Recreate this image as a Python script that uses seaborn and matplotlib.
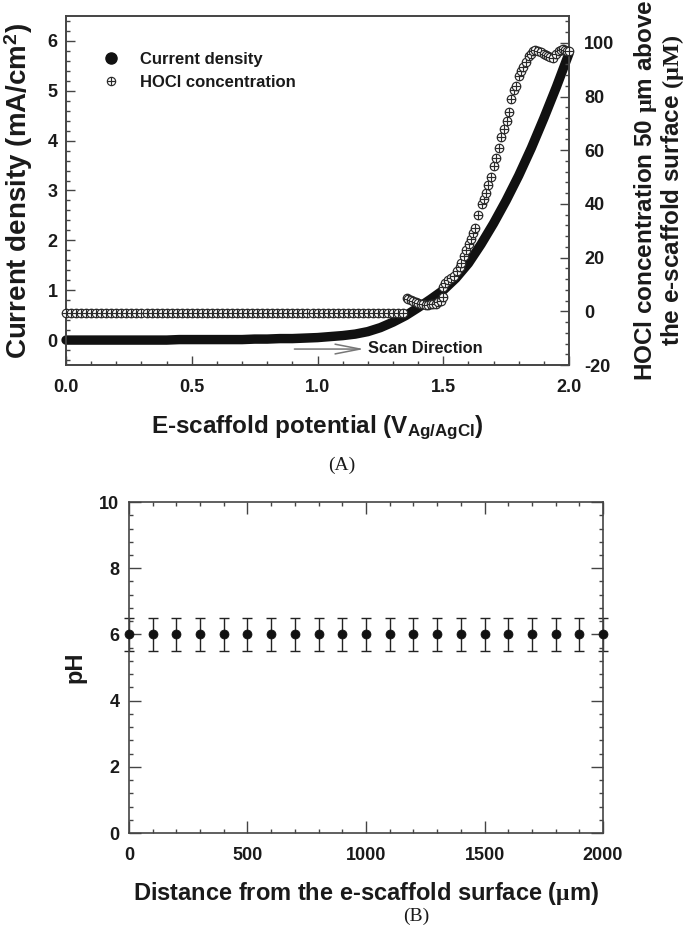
import numpy as np
import matplotlib
matplotlib.use("Agg")
import matplotlib.pyplot as plt
import seaborn as sns
from matplotlib.path import Path
from matplotlib.lines import Line2D
from matplotlib.ticker import MultipleLocator, FormatStrFormatter

# ---------------- data (panel A) ----------------
volt_cd = [0.00, 0.05, 0.10, 0.15, 0.20, 0.25, 0.30, 0.35, 0.40, 0.45, 0.50,
           0.55, 0.60, 0.65, 0.70, 0.75, 0.80, 0.85, 0.90, 0.95, 1.00, 1.05,
           1.10, 1.15, 1.20, 1.25, 1.30, 1.35, 1.40, 1.45, 1.50, 1.55, 1.60,
           1.65, 1.70, 1.75, 1.80, 1.85, 1.90, 1.95, 2.00]
current_cd = [0.00, 0.00, 0.00, 0.00, 0.00, 0.00, 0.00, 0.00, 0.00, 0.01, 0.01,
              0.01, 0.01, 0.01, 0.01, 0.02, 0.02, 0.03, 0.03, 0.04, 0.05, 0.07,
              0.09, 0.12, 0.17, 0.25, 0.36, 0.49, 0.65, 0.82, 1.00, 1.24, 1.54,
              1.92, 2.34, 2.80, 3.30, 3.85, 4.45, 5.08, 5.75]

hocl_base_v = [0.00, 0.02, 0.04, 0.06, 0.08, 0.10, 0.12, 0.14, 0.16, 0.18, 0.20,
               0.22, 0.24, 0.26, 0.28, 0.30, 0.32, 0.34, 0.36, 0.38, 0.40, 0.42,
               0.44, 0.46, 0.48, 0.50, 0.52, 0.54, 0.56, 0.58, 0.60, 0.62, 0.64,
               0.66, 0.68, 0.70, 0.72, 0.74, 0.76, 0.78, 0.80, 0.82, 0.84, 0.86,
               0.88, 0.90, 0.92, 0.94, 0.96, 0.98, 1.00, 1.02, 1.04, 1.06, 1.08,
               1.10, 1.12, 1.14, 1.16, 1.18, 1.20, 1.22, 1.24, 1.26, 1.28, 1.30,
               1.32, 1.34]
hocl_base_c = [-0.7, -0.7, -0.7, -0.7, -0.7, -0.7, -0.7, -0.7, -0.7, -0.7, -0.7,
               -0.7, -0.7, -0.7, -0.7, -0.7, -0.7, -0.7, -0.7, -0.7, -0.7, -0.7,
               -0.7, -0.7, -0.7, -0.7, -0.7, -0.7, -0.7, -0.7, -0.7, -0.7, -0.7,
               -0.7, -0.7, -0.7, -0.7, -0.7, -0.7, -0.7, -0.7, -0.7, -0.7, -0.7,
               -0.7, -0.7, -0.7, -0.7, -0.7, -0.7, -0.7, -0.7, -0.7, -0.7, -0.7,
               -0.7, -0.7, -0.7, -0.7, -0.7, -0.7, -0.7, -0.7, -0.7, -0.7, -0.7,
               -0.5, -0.5]
hocl_rise_v = [1.356, 1.36, 1.37, 1.38, 1.39, 1.40, 1.41, 1.42, 1.43, 1.44, 1.45,
               1.46, 1.47, 1.48, 1.49, 1.50,
               1.500, 1.508, 1.520, 1.530, 1.544, 1.555, 1.565, 1.572, 1.582,
               1.592, 1.602, 1.612, 1.620, 1.628, 1.640, 1.652, 1.660, 1.668,
               1.678, 1.688, 1.700, 1.708, 1.720, 1.728, 1.740, 1.752, 1.760,
               1.768, 1.780, 1.790, 1.800, 1.808, 1.816, 1.828, 1.840, 1.848,
               1.856, 1.866, 1.876, 1.888, 1.900, 1.908, 1.916, 1.926, 1.936,
               1.948, 1.960, 1.968, 1.976, 1.984, 1.992, 2.000]
hocl_rise_c = [4.9, 4.6, 4.1, 3.7, 3.3, 3.0, 2.8, 2.6, 2.5, 2.5, 2.6,
               2.7, 2.9, 3.3, 4.0, 5.2,
               9.0, 10.5, 11.5, 12.3, 13.0, 15.0, 16.5, 18.0, 20.5,
               22.8, 25.0, 27.0, 29.0, 31.0, 36.0, 40.0, 42.0, 44.0,
               47.0, 50.0, 54.0, 57.0, 61.0, 65.0, 68.0, 71.0, 74.4,
               79.0, 82.6, 84.0, 87.5, 89.5, 91.0, 93.0, 95.0, 96.0,
               96.8, 97.2, 97.0, 96.4, 95.7, 95.3, 95.0, 94.8, 94.5,
               95.7, 96.8, 97.4, 97.6, 97.3, 97.0, 96.8]

# ---------------- data (panel B) ----------------
dist_um = [0, 100, 200, 300, 400, 500, 600, 700, 800, 900, 1000,
           1100, 1200, 1300, 1400, 1500, 1600, 1700, 1800, 1900, 2000]
ph_val = [6.0, 6.0, 6.0, 6.0, 6.0, 6.0, 6.0, 6.0, 6.0, 6.0, 6.0,
          6.0, 6.0, 6.0, 6.0, 6.0, 6.0, 6.0, 6.0, 6.0, 6.0]
ph_err = [0.5, 0.5, 0.5, 0.5, 0.5, 0.5, 0.5, 0.5, 0.5, 0.5, 0.5,
          0.5, 0.5, 0.5, 0.5, 0.5, 0.5, 0.5, 0.5, 0.5, 0.5]

# ---------------- style ----------------
sns.set_theme(style="ticks")
plt.rcParams["font.family"] = ["Liberation Sans", "DejaVu Sans"]
plt.rcParams["font.weight"] = "bold"
plt.rcParams["axes.labelweight"] = "bold"
plt.rcParams["axes.unicode_minus"] = False
plt.rcParams["mathtext.fontset"] = "custom"
plt.rcParams["mathtext.rm"] = "Liberation Serif"
plt.rcParams["mathtext.bf"] = "Liberation Sans:bold"
plt.rcParams["mathtext.it"] = "Liberation Serif:italic"

TXT = "#1a1a1a"
SPINE = "#444444"
TICKFS = 13

# circle-plus marker
oplus = Path.make_compound_path(
    Path.unit_circle(),
    Path([[-1, 0], [1, 0]], [Path.MOVETO, Path.LINETO]),
    Path([[0, -1], [0, 1]], [Path.MOVETO, Path.LINETO]),
)

fig = plt.figure(figsize=(6.85, 9.34), dpi=100)
axA = fig.add_axes([0.0964, 0.6092, 0.7343, 0.3737])
axB = fig.add_axes([0.1883, 0.1081, 0.692, 0.3544])


def style_spines(ax):
    for s in ax.spines.values():
        s.set_color(SPINE)
        s.set_linewidth(1.2)
        s.set_visible(True)


# ---------------- panel A ----------------
sns.lineplot(x=volt_cd, y=current_cd, ax=axA, color="#111111", linewidth=6.8,
             solid_capstyle="round", solid_joinstyle="round", clip_on=False,
             zorder=2)
axA.set_xlim(0, 2.0)
axA.set_ylim(-0.5, 6.5)
axA.xaxis.set_major_locator(MultipleLocator(0.5))
axA.xaxis.set_minor_locator(MultipleLocator(0.1))
axA.xaxis.set_major_formatter(FormatStrFormatter("%.1f"))
axA.yaxis.set_major_locator(MultipleLocator(1))
axA.yaxis.set_minor_locator(MultipleLocator(0.2))

ax2 = axA.twinx()
sns.scatterplot(x=hocl_base_v + hocl_rise_v, y=hocl_base_c + hocl_rise_c, ax=ax2,
                marker=oplus, s=38, color="white", edgecolor="#2a2a2a",
                linewidth=0.85, zorder=3, clip_on=False)
ax2.set_ylim(-20, 110)
ax2.yaxis.set_major_locator(MultipleLocator(20))
ax2.yaxis.set_minor_locator(MultipleLocator(4))

for ax in (axA, ax2):
    style_spines(ax)
axA.tick_params(axis="both", which="both", direction="in", color=SPINE, width=1,
                labelsize=TICKFS, labelcolor=TXT, top=False, right=False)
axA.tick_params(axis="both", which="major", length=6.5)
axA.tick_params(axis="both", which="minor", length=3)
axA.tick_params(axis="x", which="major", pad=10)
axA.tick_params(axis="y", which="major", pad=6)
ax2.tick_params(axis="y", which="both", direction="in", color=SPINE, width=1,
                labelsize=TICKFS, labelcolor=TXT, pad=11)
ax2.tick_params(axis="y", which="major", length=6.5)
ax2.tick_params(axis="y", which="minor", length=3)
for lab in axA.get_xticklabels() + axA.get_yticklabels() + ax2.get_yticklabels():
    lab.set_fontweight("bold")

axA.set_xlabel(r"E-scaffold potential (V$_{\mathbf{Ag/AgCl}}$)", fontsize=17.5,
               color=TXT)
axA.xaxis.set_label_coords(0.5, -0.137)
axA.set_ylabel(r"Current density (mA/cm$^{\mathbf{2}}$)", fontsize=20,
               color=TXT, va="center")
axA.yaxis.set_label_coords(-0.094, 0.5)
ax2.set_ylabel("HOCl concentration 50 $\\mathrm{\\mu}$m above\n"
               "the e-scaffold surface $\\mathrm{(\\mu M)}$",
               fontsize=17.5, color=TXT, va="center", rotation=90,
               linespacing=1.0)
ax2.yaxis.set_label_coords(1.179, 0.5)

# scan direction arrow
axA.annotate("", xy=(1.185, -0.18), xytext=(0.908, -0.18),
             arrowprops=dict(arrowstyle="->,head_length=1.8,head_width=0.35",
                             color="#777777", lw=1.1, mutation_scale=10,
                             shrinkA=0, shrinkB=0))
axA.text(1.2, -0.17, "Scan Direction", fontsize=11.8, fontweight="bold",
         color=TXT, va="center", ha="left")

handles = [
    Line2D([0], [0], marker="o", linestyle="none", markersize=8,
           markerfacecolor="#111111", markeredgecolor="#111111"),
    Line2D([0], [0], marker=oplus, linestyle="none", markersize=6,
           markerfacecolor="white", markeredgecolor="#2a2a2a",
           markeredgewidth=0.85),
]
leg = ax2.legend(handles, ["Current density", "HOCl concentration"],
                 loc="upper left", bbox_to_anchor=(0.056, 0.92),
                 frameon=False, borderpad=0, handlelength=1.0,
                 handletextpad=1.25, labelspacing=0.45,
                 prop={"weight": "bold", "size": 12})
for t in leg.get_texts():
    t.set_color(TXT)

fig.text(342 / 685, 1 - 465 / 934, "(A)", fontsize=14, family="Liberation Serif",
         fontweight="normal", ha="center", va="center", color=TXT)

# ---------------- panel B ----------------
axB.errorbar(dist_um, ph_val, yerr=ph_err, fmt="none", ecolor="#222222",
             elinewidth=1.0, capsize=3.3, capthick=1.0, zorder=2, clip_on=False)
sns.scatterplot(x=dist_um, y=ph_val, ax=axB, color="#111111", s=42,
                edgecolor="#111111", zorder=3, clip_on=False)
axB.set_xlim(0, 2000)
axB.set_ylim(0, 10)
axB.xaxis.set_major_locator(MultipleLocator(500))
axB.xaxis.set_minor_locator(MultipleLocator(100))
axB.yaxis.set_major_locator(MultipleLocator(2))
axB.yaxis.set_minor_locator(MultipleLocator(0.4))
style_spines(axB)
axB.tick_params(axis="both", which="both", direction="in", color=SPINE, width=1,
                labelsize=TICKFS, labelcolor=TXT, top=True, right=True)
axB.tick_params(axis="both", which="major", length=8.5)
axB.tick_params(axis="both", which="minor", length=3)
axB.tick_params(axis="x", which="major", pad=10)
axB.tick_params(axis="y", which="major", pad=7)
for lab in axB.get_xticklabels() + axB.get_yticklabels():
    lab.set_fontweight("bold")
axB.set_xlabel("Distance from the e-scaffold surface ($\\mathrm{\\mu}$m)",
               fontsize=17, color=TXT)
axB.xaxis.set_label_coords(0.5, -0.141)
axB.set_ylabel("pH", fontsize=17, color=TXT, va="center")
axB.yaxis.set_label_coords(-0.115, 0.5)

fig.text(416 / 685, 1 - 916 / 934, "(B)", fontsize=14, family="Liberation Serif",
         fontweight="normal", ha="center", va="center", color=TXT)

fig.savefig("out.png", dpi=100)
